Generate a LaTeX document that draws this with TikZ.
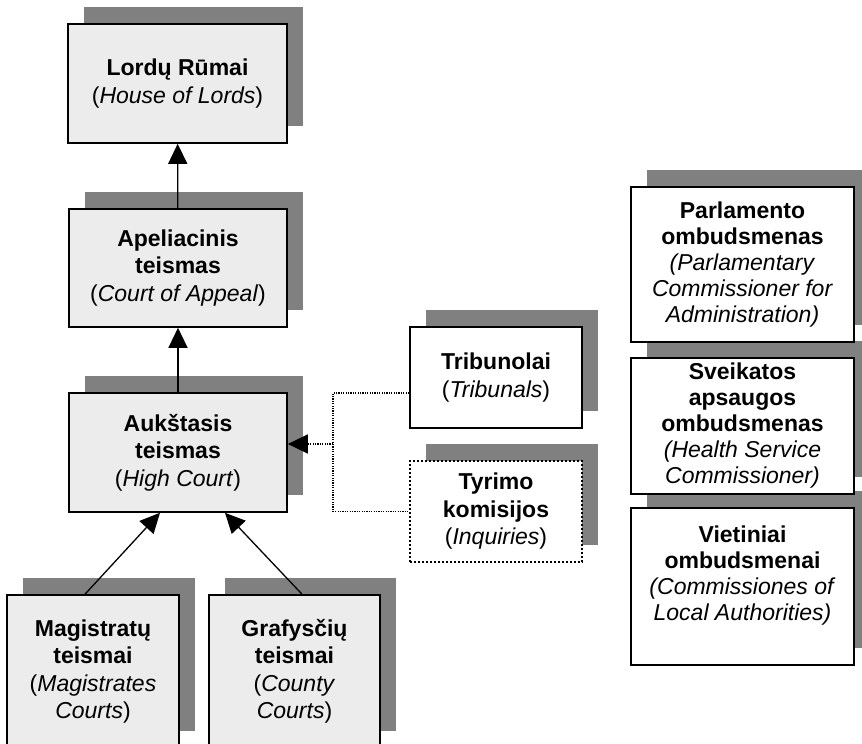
\documentclass[tikz,border=0pt]{standalone}
\usepackage{fontspec}
\setmainfont{Liberation Sans}
\usetikzlibrary{arrows.meta,shadows}
\definecolor{courtgray}{HTML}{ECECEC}
\definecolor{shadegray}{HTML}{808080}
\newcommand{\chartfont}{\fontsize{23}{27.5}\selectfont}
\newcommand{\ombfont}{\fontsize{23}{26}\selectfont}
\tikzset{
  court/.style={draw=black, line width=1.6pt, fill=courtgray, align=center, inner sep=0pt, font=\chartfont, drop shadow={shadow xshift=16pt, shadow yshift=17pt, opacity=1, fill=shadegray}},
  tribbox/.style={draw=black, line width=1.6pt, fill=white, align=center, inner sep=0pt, font=\chartfont, minimum width=172pt, minimum height=101pt, drop shadow={shadow xshift=16pt, shadow yshift=17pt, opacity=1, fill=shadegray}},
  inqbox/.style={tribbox, line width=2pt, dash pattern=on 2pt off 2pt},
  ombbox/.style={draw=black, line width=1.6pt, fill=white, align=center, inner sep=0pt, font=\ombfont, minimum width=223pt, drop shadow={shadow xshift=16pt, shadow yshift=17pt, opacity=1, fill=shadegray}},
  arrow/.style={-{Triangle[length=20pt, width=19pt]}, line width=1.3pt},
  dotline/.style={line width=1.2pt, dash pattern=on 1.2pt off 1.2pt}
}

\begin{document}
\begin{tikzpicture}[x=1pt, y=-1pt]
\useasboundingbox (0,0) rectangle (862,744);

% court ladder
\node[court, minimum width=219pt, minimum height=119pt] (lords) at (177.5,83.5) {\textbf{Lordų Rūmai}\\(\textit{House of Lords})};
\node[court, minimum width=218pt, minimum height=118pt] (appeal) at (178,268) {\textbf{Apeliacinis}\\\textbf{teismas}\\(\textit{Court of Appeal})};
\node[court, minimum width=218pt, minimum height=119pt] (high) at (178,452.5) {\textbf{Aukštasis}\\\textbf{teismas}\\(\textit{High Court})};
\node[court, minimum width=172pt, minimum height=153pt] (magis) at (93,671.5) {\textbf{Magistratų}\\\textbf{teismai}\\(\textit{Magistrates}\\\textit{Courts})};
\node[court, minimum width=171pt, minimum height=153pt] (county) at (294.5,671.5) {\textbf{Grafysčių}\\\textbf{teismai}\\(\textit{County}\\\textit{Courts})};

% tribunals and inquiries
\node[tribbox] (trib) at (496,377.5) {\textbf{Tribunolai}\\(\textit{Tribunals})};
\node[inqbox] (inq) at (496,511.5) {\textbf{Tyrimo}\\\textbf{komisijos}\\(\textit{Inquiries})};

% ombudsmen (lowest first so upper borders stay on top)
\node[ombbox, minimum height=157pt] (local) at (742.5,586.5) {\textbf{Vietiniai}\\\textbf{ombudsmenai}\\\textit{(Commissiones of}\\\textit{Local Authorities)}\\\mbox{}};
\node[ombbox, minimum height=136pt] (health) at (742.5,426) {\textbf{Sveikatos}\\\textbf{apsaugos}\\\textbf{ombudsmenas}\\\textit{(Health Service}\\\textit{Commissioner)}};
\node[ombbox, minimum height=155pt] (parl) at (742.5,264.5) {\textbf{Parlamento}\\\textbf{ombudsmenas}\\\textit{(Parlamentary}\\\textit{Commissioner for}\\\textit{Administration)}};

% appeals upward
\draw[arrow] (appeal) -- (lords);
\draw[arrow] (high) -- (appeal);
\draw[arrow] ([xshift=-8pt]magis.north) -- ([xshift=-18pt]high.south);
\draw[arrow] ([xshift=7.5pt]county.north) -- ([xshift=47pt]high.south);

% dotted link to high court
\coordinate (join) at (333,444);
\draw[dotline] ([yshift=-15.5pt]trib.west) -| (join) |- (inq.west);
\draw[dotline, -{Triangle[length=20pt, width=19pt]}] (join) -- (join -| high.east);
\end{tikzpicture}
\end{document}
